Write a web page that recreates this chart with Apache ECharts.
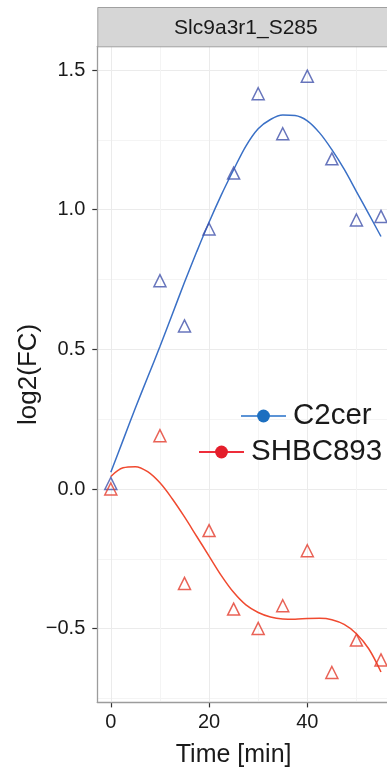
<!DOCTYPE html>
<html><head><meta charset="utf-8">
<script src="https://cdn.jsdelivr.net/npm/echarts@6/dist/echarts.min.js"></script>
<style>html,body{margin:0;padding:0;background:#fff}#c{width:387px;height:773px}</style>
</head><body><div id="c"></div>
<script>
// ---- data ----
const facetTitle = 'Slc9a3r1_S285';
const seriesNames = ['C2cer', 'SHBC893'];
const xTitle = 'Time [min]';
const yTitle = 'log2(FC)';
const times = [0, 10, 15, 20, 25, 30, 35, 40, 45, 50, 55];
const c2cerValues = [0.02, 0.746, 0.584, 0.931, 1.131, 1.415, 1.272, 1.478, 1.182, 0.963, 0.976];
const shbcValues = [0.0, 0.191, -0.338, -0.149, -0.430, -0.499, -0.418, -0.221, -0.657, -0.541, -0.612];
const fitTimes = [0, 2.5, 5, 7.5, 10, 12.5, 15, 17.5, 20, 22.5, 25, 27.5, 30, 32.5, 35, 37.5, 40, 42.5, 45, 47.5, 50, 52.5, 55];
const c2cerFit = [0.06, 0.175, 0.29, 0.40, 0.51, 0.625, 0.74, 0.85, 0.955, 1.053, 1.143, 1.228, 1.29, 1.323, 1.339, 1.337, 1.318, 1.275, 1.215, 1.145, 1.065, 0.985, 0.904];
const shbcFit = [0.045, 0.076, 0.08, 0.062, 0.022, -0.035, -0.10, -0.17, -0.24, -0.31, -0.37, -0.415, -0.442, -0.458, -0.465, -0.466, -0.464, -0.463, -0.468, -0.485, -0.518, -0.572, -0.655];
const xTicks = [0, 20, 40];
const yTicks = [-0.5, 0, 0.5, 1.0, 1.5];
const xMinorStep = 10;
const yMinorStep = 0.25;

// ---- layout ----
const W = 387, H = 773;
const PX0 = 97.3, PX1 = 387, PANEL_RIGHT = 394.5, PY0 = 46.3, PY1 = 702.4;
const X_MIN = -2.75, X_FULL_MAX = 57.75;
const X_MAX = X_MIN + (PX1 - PX0) / (PANEL_RIGHT - PX0) * (X_FULL_MAX - X_MIN);
const Y_MIN = -0.764, Y_MAX = 1.585;
const px = v => PX0 + (v - X_MIN) / (X_MAX - X_MIN) * (PX1 - PX0);
const py = v => PY1 - (v - Y_MIN) / (Y_MAX - Y_MIN) * (PY1 - PY0);
const FONT = 'Liberation Sans, Arial, Helvetica, sans-serif';
const TXT = '#1a1a1a';
const MAJOR = '#EBEBEB', MINOR = '#F4F4F4';
const BORDER = '#9C9C9C';

const xLineMax = 50;           // last vertical grid line inside the panel
const yLineMin = -0.75;        // lowest horizontal grid line inside the panel
const fmt = v => (Math.abs(v) < 1e-9 ? '0.0' : v.toFixed(1)).replace('-', '\u2212');

const hiddenX = (gi) => ({ type: 'value', gridIndex: gi, show: false, min: 0, max: 1 });
const hiddenY = (gi) => ({ type: 'value', gridIndex: gi, show: false, min: 0, max: 1 });

const grids = [
  { left: PX0, right: W - PX1, top: PY0, bottom: H - PY1 },
  { left: px(xTicks[0]), right: W - px(xLineMax), top: PY0, bottom: H - PY1 },
  { left: px(xTicks[0]), right: W - px(xTicks[xTicks.length - 1]), top: PY0, bottom: H - PY1 },
  { left: PX0, right: W - PX1, top: py(yTicks[yTicks.length - 1]), bottom: H - py(yLineMin) },
  { left: PX0, right: W - PX1, top: py(yTicks[yTicks.length - 1]), bottom: H - py(yTicks[0]) }
];

const xAxes = [
  { type: 'value', gridIndex: 0, min: X_MIN, max: X_MAX,
    axisLine: { show: true, onZero: false, lineStyle: { color: BORDER, width: 1.3 } },
    axisTick: { show: false }, axisLabel: { show: false }, splitLine: { show: false }, z: 5 },
  { type: 'value', gridIndex: 1, min: xTicks[0], max: xLineMax, interval: xMinorStep,
    axisLine: { show: false }, axisTick: { show: false }, axisLabel: { show: false },
    splitLine: { show: true, lineStyle: { color: [MAJOR, MINOR], width: 1 } },
    name: xTitle, nameLocation: 'middle', nameGap: 42,
    nameTextStyle: { fontSize: 25, color: TXT, fontFamily: FONT } },
  { type: 'value', gridIndex: 2, min: xTicks[0], max: xTicks[xTicks.length - 1], interval: xTicks[1] - xTicks[0],
    axisLine: { show: false }, axisTick: { show: true, length: 5, lineStyle: { color: '#333', width: 1.2 } },
    axisLabel: { show: true, fontSize: 20, color: TXT, fontFamily: FONT, margin: 10 },
    splitLine: { show: false } },
  hiddenX(3), hiddenX(4)
];

const yAxes = [
  { type: 'value', gridIndex: 0, min: Y_MIN, max: Y_MAX,
    axisLine: { show: true, onZero: false, lineStyle: { color: BORDER, width: 1.3 } },
    axisTick: { show: false }, axisLabel: { show: false }, splitLine: { show: false }, z: 5,
    name: yTitle, nameLocation: 'middle', nameGap: 55,
    nameTextStyle: { fontSize: 26, color: TXT, fontFamily: FONT } },
  hiddenY(1), hiddenY(2),
  { type: 'value', gridIndex: 3, min: yLineMin, max: yTicks[yTicks.length - 1], interval: yMinorStep,
    axisLine: { show: false }, axisTick: { show: false }, axisLabel: { show: false },
    splitLine: { show: true, lineStyle: { color: [MINOR, MAJOR], width: 1 } } },
  { type: 'value', gridIndex: 4, min: yTicks[0], max: yTicks[yTicks.length - 1], interval: yTicks[1] - yTicks[0],
    axisLine: { show: false }, axisTick: { show: true, length: 5, lineStyle: { color: '#333', width: 1.2 } },
    axisLabel: { show: true, fontSize: 20, color: TXT, fontFamily: FONT, margin: 12, formatter: fmt },
    splitLine: { show: false } }
];

const pairs = (xs, ys) => xs.map((x, i) => [x, ys[i]]);

const option = {
  animation: false,
  backgroundColor: '#fff',
  textStyle: { fontFamily: FONT },
  grid: grids,
  xAxis: xAxes,
  yAxis: yAxes,
  graphic: [
    { type: 'rect', left: PX0, top: 7, shape: { width: PANEL_RIGHT - PX0, height: PY0 - 7 },
      style: { fill: '#D6D6D6', stroke: '#A0A0A0', lineWidth: 1 }, z: 10, silent: true },
    { type: 'text', x: (PX0 + PANEL_RIGHT) / 2, y: 28, z: 11, silent: true,
      style: { text: facetTitle, fontSize: 21, fill: TXT, fontFamily: FONT, align: 'center', verticalAlign: 'middle' } }
  ],
  legend: [
    { data: [seriesNames[0]], left: 240, top: 401, orient: 'vertical', padding: 0, itemWidth: 45, itemHeight: 16, selectedMode: false,
      textStyle: { fontSize: 29.5, color: TXT, fontFamily: FONT, padding: [0, 0, 0, 2] },
      lineStyle: { color: '#5B93D6', width: 2 }, itemStyle: { color: '#1C6FC0' } },
    { data: [seriesNames[1]], left: 198, top: 437, orient: 'vertical', padding: 0, itemWidth: 45, itemHeight: 16, selectedMode: false,
      textStyle: { fontSize: 29.5, color: TXT, fontFamily: FONT, padding: [0, 0, 0, 2] },
      lineStyle: { color: '#EE2D3A', width: 2 }, itemStyle: { color: '#E41E2B' } }
  ],
  series: [
    { name: seriesNames[0], type: 'line', xAxisIndex: 0, yAxisIndex: 0, data: pairs(fitTimes, c2cerFit),
      smooth: 0.35, symbol: 'circle', showSymbol: false, lineStyle: { color: '#3A70C6', width: 1.5 }, itemStyle: { color: '#3A70C6' }, z: 3 },
    { name: seriesNames[1], type: 'line', xAxisIndex: 0, yAxisIndex: 0, data: pairs(fitTimes, shbcFit),
      smooth: 0.35, symbol: 'circle', showSymbol: false, lineStyle: { color: '#F04A30', width: 1.5 }, itemStyle: { color: '#F04A30' }, z: 3 },
    { name: seriesNames[0] + ' obs', type: 'scatter', xAxisIndex: 0, yAxisIndex: 0, data: pairs(times, c2cerValues),
      symbol: 'triangle', symbolSize: 12, itemStyle: { color: 'rgba(0,0,0,0)', borderColor: '#4152AB', borderWidth: 1.5 }, z: 4 },
    { name: seriesNames[1] + ' obs', type: 'scatter', xAxisIndex: 0, yAxisIndex: 0, data: pairs(times, shbcValues),
      symbol: 'triangle', symbolSize: 12, itemStyle: { color: 'rgba(0,0,0,0)', borderColor: '#E33B2C', borderWidth: 1.5 }, z: 4 }
  ]
};
echarts.init(document.getElementById('c'), null, { renderer: 'canvas' }).setOption(option);
</script></body></html>
